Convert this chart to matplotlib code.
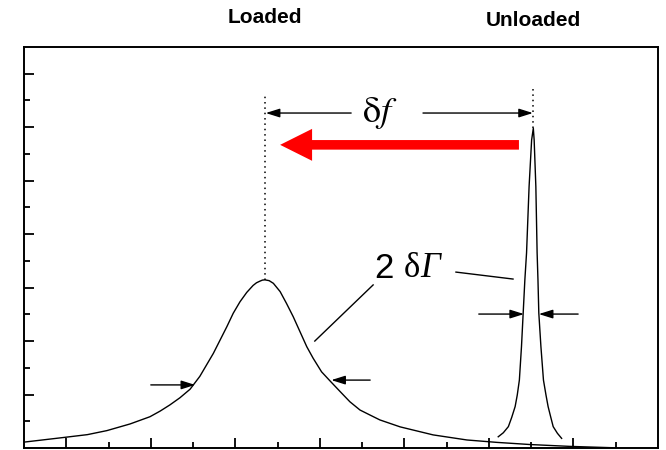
import numpy as np
import matplotlib.pyplot as plt

# Resonance curves (arbitrary units, axes run 0..15)
loaded_x = [0.00, 0.92, 1.50, 1.96, 2.51, 2.98, 3.22, 3.45, 3.69, 3.93, 4.16,
            4.32, 4.48, 4.64, 4.80, 4.95, 5.11, 5.27, 5.42, 5.50, 5.58, 5.64,
            5.70, 5.80, 5.90, 6.06, 6.21, 6.37, 6.53, 6.69, 6.84, 7.04, 7.24,
            7.48, 7.71, 7.95, 8.19, 8.42, 8.90, 9.68, 10.48, 11.19, 11.97, 12.92,
            13.93]
loaded_y = [0.22, 0.39, 0.50, 0.65, 0.90, 1.17, 1.38, 1.61, 1.88, 2.20, 2.68,
            3.11, 3.54, 4.04, 4.54, 5.04, 5.47, 5.82, 6.08, 6.18, 6.24, 6.28,
            6.29, 6.26, 6.16, 5.85, 5.41, 4.91, 4.35, 3.79, 3.36, 2.85, 2.51,
            2.11, 1.73, 1.42, 1.23, 1.05, 0.79, 0.49, 0.30, 0.21, 0.13, 0.06,
            0.01]

unloaded_x = [11.22, 11.34, 11.46, 11.54, 11.62, 11.67, 11.72, 11.77, 11.81, 11.85,
              11.89, 11.95, 12.01, 12.05, 12.07, 12.11, 12.14, 12.16, 12.18, 12.23,
              12.29, 12.35, 12.40, 12.46, 12.52, 12.62, 12.72]
unloaded_y = [0.42, 0.57, 0.80, 1.15, 1.55, 1.98, 2.54, 3.79, 5.04, 6.29,
              7.30, 9.78, 11.52, 11.96, 11.52, 9.78, 7.30, 6.29, 5.05, 3.79,
              2.54, 1.98, 1.55, 1.17, 0.80, 0.55, 0.36]

plt.rcParams['mathtext.fontset'] = 'stix'

fig = plt.figure(figsize=(6.66, 4.5), dpi=100)
ax = fig.add_axes([24 / 666, 2 / 450, 634 / 666, 401 / 450])
ax.set_xlim(0, 15)
ax.set_ylim(0, 15)

ax.set_xticks(range(1, 15, 2))
ax.set_xticks(range(2, 15, 2), minor=True)
ax.set_yticks(range(2, 15, 2))
ax.set_yticks(range(1, 15, 2), minor=True)
ax.tick_params(which='both', direction='in', width=1.3,
               labelbottom=False, labelleft=False)
ax.tick_params(which='major', length=7)
ax.tick_params(which='minor', length=4)
for s in ax.spines.values():
    s.set_linewidth(1.4)

ax.plot(loaded_x, loaded_y, color='black', lw=1.0, solid_joinstyle='round')
ax.plot(unloaded_x, unloaded_y, color='black', lw=1.0, solid_joinstyle='round')

# peak positions
i1 = int(np.argmax(loaded_y))
i2 = int(np.argmax(unloaded_y))
x1, y1 = loaded_x[i1], loaded_y[i1]
x2, y2 = unloaded_x[i2], unloaded_y[i2]

# dotted guides up from the peaks
ax.plot([x1, x1], [y1, 13.2], color='black', lw=1.1, ls=(0, (1, 2.5)))
ax.plot([x2, x2], [y2, 13.47], color='black', lw=1.1, ls=(0, (1, 2.5)))

small = dict(arrowstyle='-|>,head_length=0.7,head_width=0.22', color='black',
             lw=1.0, mutation_scale=12, shrinkA=0, shrinkB=0)

# delta f dimension line
ax.annotate('', xy=(x1 + 0.02, 12.53), xytext=(7.74, 12.53), arrowprops=small)
ax.annotate('', xy=(x2 - 0.01, 12.53), xytext=(9.44, 12.53), arrowprops=small)
ax.text(8.42, 12.53, r'$\mathrm{\delta}f$', fontsize=26, ha='center', va='center')

# red shift arrow
ax.annotate('', xy=(6.06, 11.34), xytext=(11.71, 11.34),
            arrowprops=dict(arrowstyle='simple,head_length=1.0,head_width=1.0,tail_width=0.3',
                            mutation_scale=23, fc='red', ec='none', lw=0,
                            shrinkA=0, shrinkB=0))

# width markers
ax.annotate('', xy=(4.05, 2.36), xytext=(3.00, 2.36), arrowprops=small)
ax.annotate('', xy=(7.27, 2.54), xytext=(8.19, 2.54), arrowprops=small)
ax.annotate('', xy=(11.83, 5.01), xytext=(10.76, 5.01), arrowprops=small)
ax.annotate('', xy=(12.18, 5.01), xytext=(13.11, 5.01), arrowprops=small)

# "2 δΓ" label: sans digit, upright delta, italic Gamma
t2 = ax.text(8.30, 6.36, '2 ', family='Liberation Sans', fontsize=25,
             ha='left', va='baseline')
td = ax.annotate('δ', xy=(1, 0), xycoords=t2, family='Liberation Serif',
                 fontsize=25, ha='left', va='bottom')
ax.annotate('Γ', xy=(1, 0), xycoords=td, family='Liberation Serif',
            style='italic', fontsize=25, ha='left', va='bottom')
ax.plot([6.88, 8.26], [4.0, 6.10], color='black', lw=1.0)
ax.plot([10.22, 11.57], [6.58, 6.32], color='black', lw=1.0)

# labels above the frame
lab = dict(fontsize=15, fontweight='bold', family='Liberation Sans', ha='center',
           va='center', transform=ax.get_xaxis_transform())
ax.text(x1, 1.073, 'Loaded', **lab)
ax.text(x2, 1.066, 'Unloaded', **lab)

fig.savefig('out.png', dpi=100)
